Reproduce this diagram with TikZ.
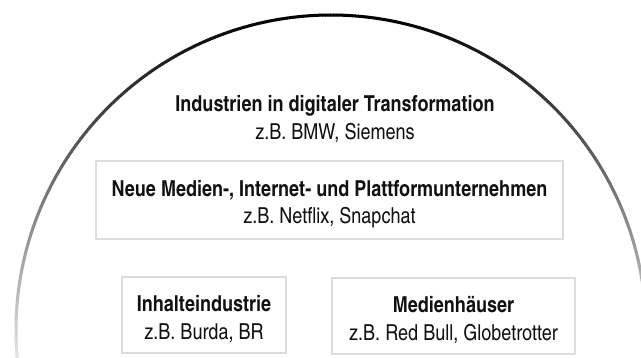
\documentclass[tikz,border=0pt]{standalone}
\usepackage{fontspec}
\setmainfont{texgyreheroscn}[Extension=.otf, UprightFont=*-regular, BoldFont=*-bold]
\definecolor{boxgray}{HTML}{DCDCDC}
\definecolor{txt}{HTML}{111111}
\tikzset{
  label text/.style={align=center, text=txt, font=\fontsize{22}{27.5}\selectfont, inner sep=0pt},
  catbox/.style={draw=boxgray, line width=1.5pt, inner sep=0pt},
}
\begin{document}
\begin{tikzpicture}[x=1pt,y=1pt]
\useasboundingbox (0,0) rectangle (641,-358);
\fill[white] (0,0) rectangle (641,-358);
\begin{scope}
\clip (0,0) rectangle (641,-358);
\coordinate (C) at (331,-330);
\foreach \a in {-12,-11.5,...,192}{
  \pgfmathsetmacro\dd{315*(1-sin(\a+0.25))}
  \pgfmathtruncatemacro\pp{max(6,100-0.26*\dd)}
  \draw[draw=black!\pp!white, line width=3pt] (C) ++(\a:315) arc[start angle=\a, end angle=\a+0.6, radius=315];
}
\end{scope}
\node[label text] (top) at (335,-119) {\textbf{Industrien in digitaler Transformation}\\z.B. BMW, Siemens};
\node[catbox, minimum width=467, minimum height=78] (neue) at (329.5,-200) {};
\node[catbox, minimum width=164, minimum height=76] (inhalt) at (204,-315) {};
\node[catbox, minimum width=243, minimum height=76] (medien) at (453.5,-316) {};
\node[label text] (neuetext) at ([yshift=-4]neue.center) {\textbf{Neue Medien-, Internet- und Plattformunternehmen}\\z.B. Netflix, Snapchat};
\node[label text] (inhalttext) at ([yshift=-4]inhalt.center) {\textbf{Inhalteindustrie}\\z.B. Burda, BR};
\node[label text] (medientext) at ([yshift=-4]medien.center) {\textbf{Medienhäuser}\\z.B. Red Bull, Globetrotter};
\end{tikzpicture}
\end{document}
